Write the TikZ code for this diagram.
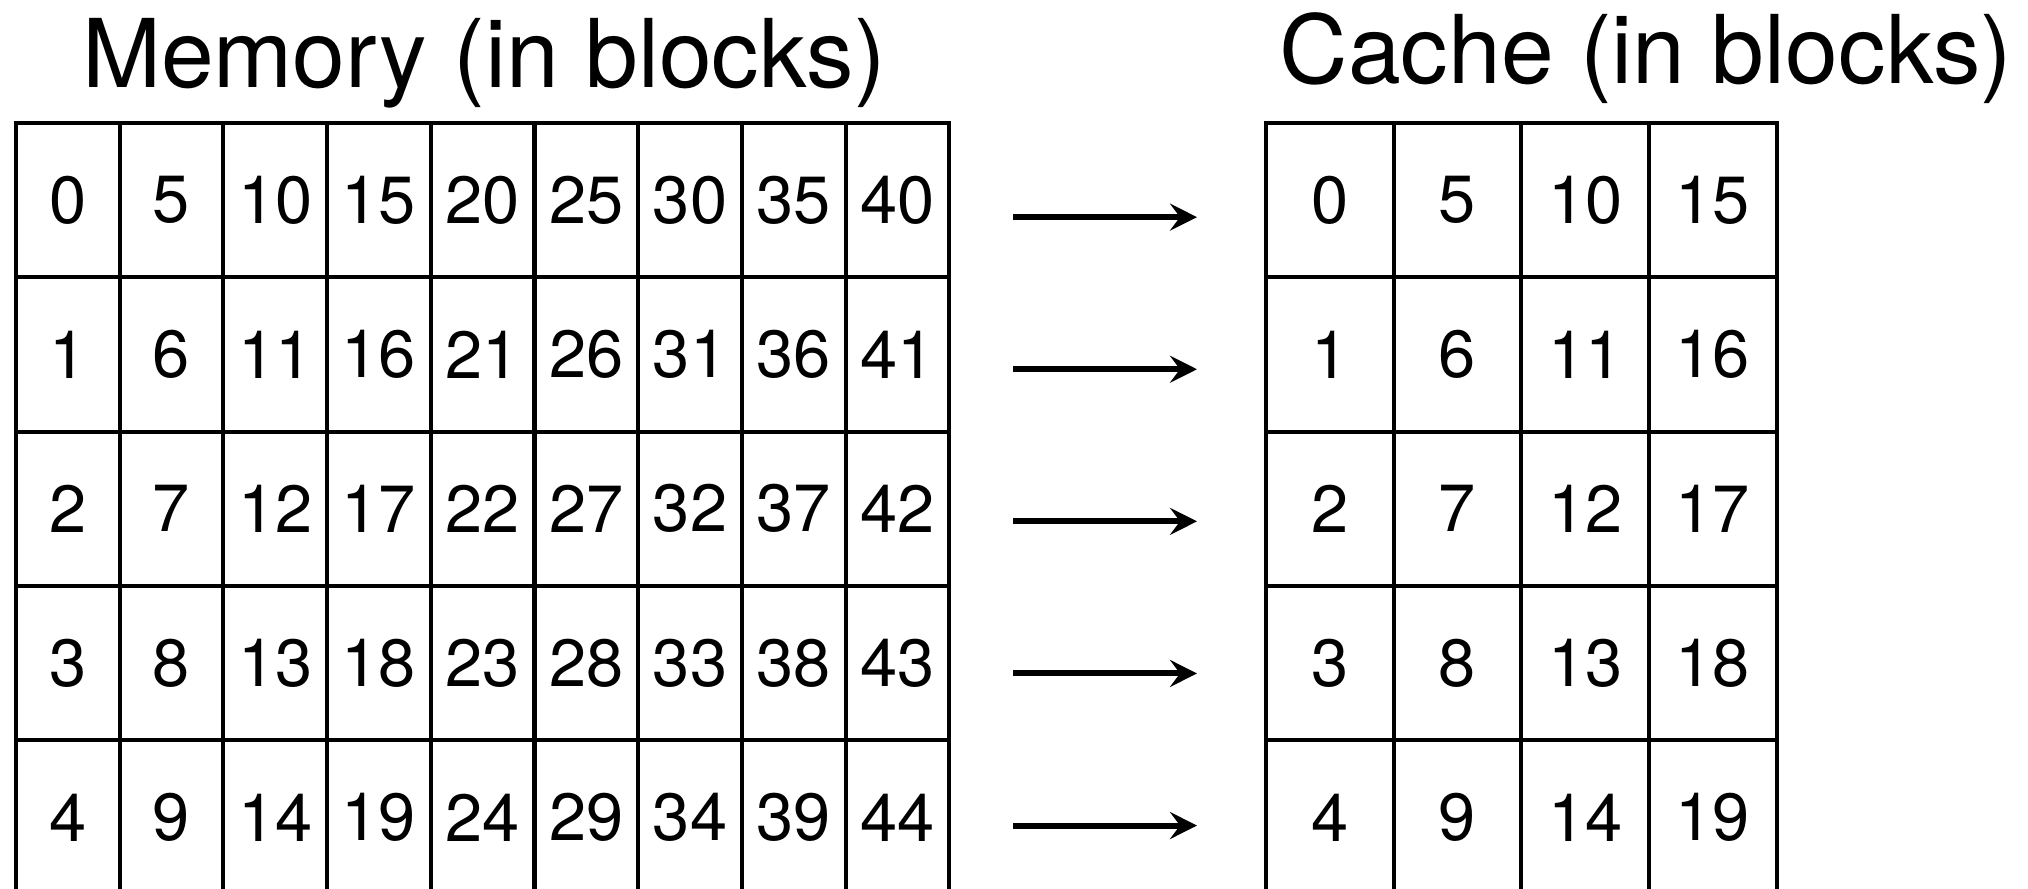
\documentclass[tikz,border=0pt]{standalone}
\usepackage{fontspec}
\setmainfont{TeX Gyre Heros}
\usetikzlibrary{arrows.meta}
\tikzset{
  cell/.style={draw=black, line width=1.15pt, inner sep=0pt, outer sep=0pt,
               font=\fontsize{19}{22}\selectfont},
  memcell/.style={cell, minimum width=1.037cm, minimum height=1.543cm},
  cachecell/.style={cell, minimum width=1.277cm, minimum height=1.543cm},
  ttl/.style={anchor=base, inner sep=0pt, font=\fontsize{27}{30}\selectfont},
  maparr/.style={-{Stealth[length=2.7mm, width=2.7mm, inset=1mm]}, line width=1.7pt,
                 shorten <=0.64cm, shorten >=0.69cm},
}

\begin{document}
\begin{tikzpicture}
  \clip (0,0) rectangle (20.28,-8.89);
  % memory: 9 columns x 5 rows, block numbers run down the columns
  \foreach \r in {1,...,5}{
    \foreach \c in {1,...,9}{
      \pgfmathtruncatemacro{\blk}{(\c-1)*5+\r-1}
      \node[memcell] (m-\r-\c) at ({0.16+(\c-0.5)*1.037},{-1.23-(\r-0.5)*1.543}) {\blk};
    }
  }
  % cache: 4 columns x 5 rows
  \foreach \r in {1,...,5}{
    \foreach \c in {1,...,4}{
      \pgfmathtruncatemacro{\blk}{(\c-1)*5+\r-1}
      \node[cachecell] (c-\r-\c) at ({12.66+(\c-0.5)*1.277},{-1.23-(\r-0.5)*1.543}) {\blk};
    }
  }
  \node[ttl] (memttl) at (4.84,-0.88) {Memory (in blocks)};
  \node[ttl] (cachettl) at (16.46,-0.83) {Cache (in blocks)};
  % one arrow per row, sitting a little under the row's middle
  \foreach \r in {1,...,5}{
    \pgfmathsetmacro{\dy}{-0.17+(\r-1)*0.022}
    \draw[maparr] ([yshift=\dy cm]m-\r-9.east) -- ([yshift=\dy cm]c-\r-1.west);
  }
\end{tikzpicture}
\end{document}
